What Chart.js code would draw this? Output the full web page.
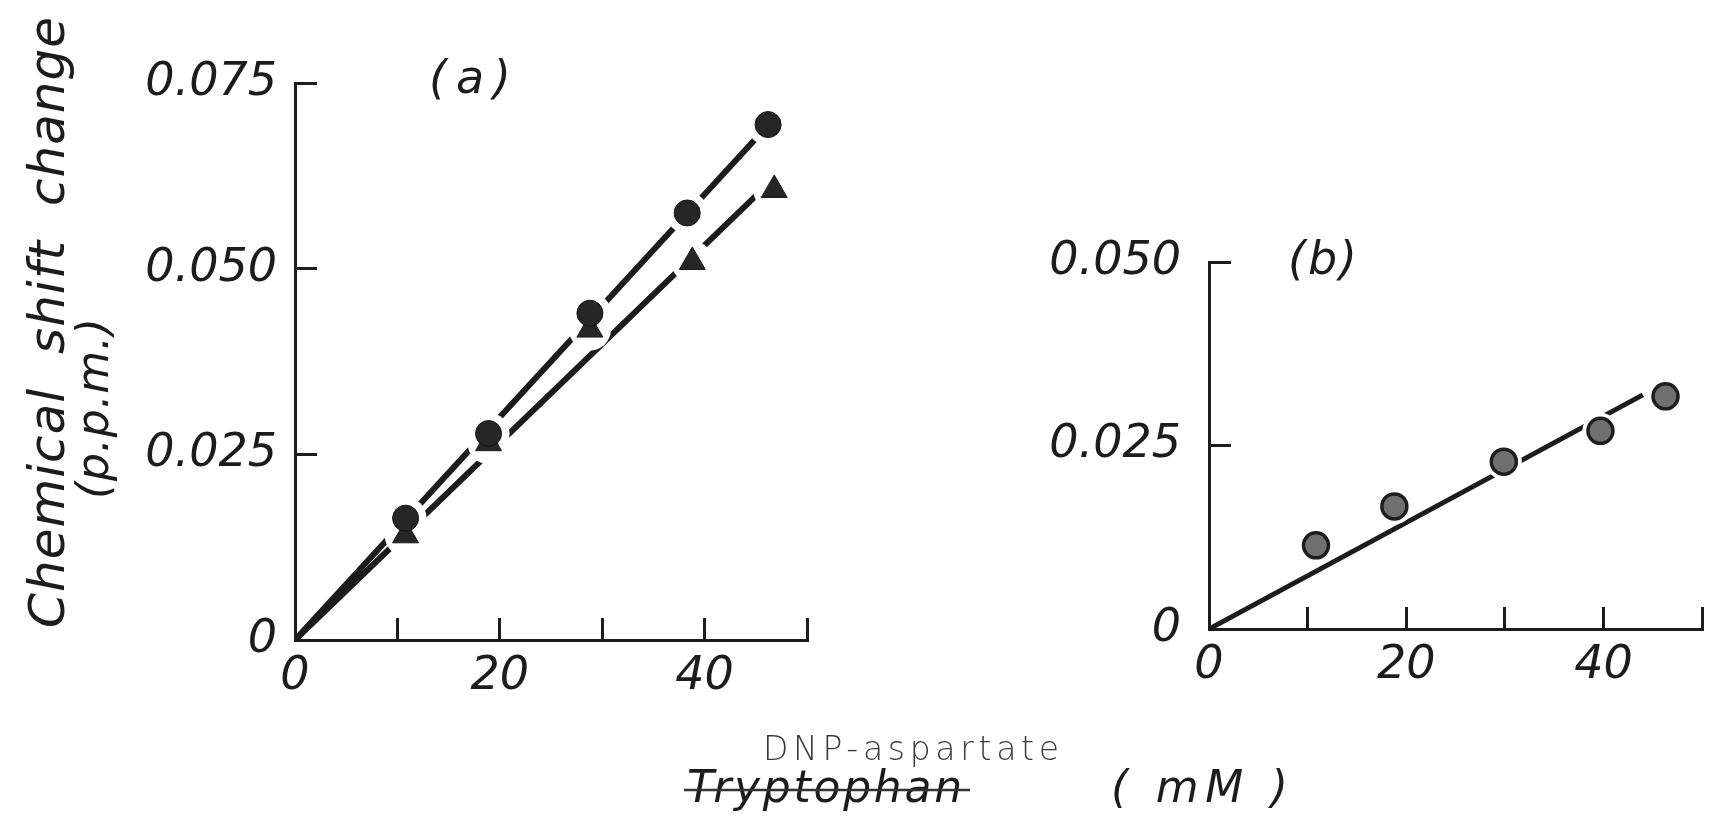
<!DOCTYPE html>
<html>
<head>
<meta charset="utf-8">
<title>Chemical shift change vs concentration</title>
<style>
  html, body { margin: 0; padding: 0; background: #ffffff; }
  #wrap { position: relative; width: 1733px; height: 819px; overflow: hidden; }
  #wrap canvas { position: absolute; left: 0; top: 0; }
</style>
<script src="https://cdn.jsdelivr.net/npm/chart.js@4.4.1/dist/chart.umd.min.js"></script>
</head>
<body>
<div id="wrap">
  <canvas id="panelA" width="1733" height="819"></canvas>
  <canvas id="panelB" width="1733" height="819"></canvas>
</div>
<script>
// ---- data -------------------------------------------------------------
// Panel (a): concentration (mM) and chemical shift change (p.p.m.)
const concCircleA  = [10.8, 18.9, 28.8, 38.3, 46.2];
const shiftCircleA = [0.0164, 0.0278, 0.0440, 0.0575, 0.0694];
const concTriA     = [10.8, 18.9, 28.8, 38.8, 46.8];
const shiftTriA    = [0.0141, 0.0265, 0.0418, 0.0509, 0.0606];
// straight lines drawn through each series in panel (a)
const fitCircleAX = [0, 46.2];
const fitCircleAY = [0, 0.0693];
const fitTriAX    = [0, 46.8];
const fitTriAY    = [0, 0.0622];

// Panel (b)
const concB  = [10.85, 18.8, 29.9, 39.7, 46.3];
const shiftB = [0.0114, 0.0167, 0.0228, 0.0270, 0.0317];
const fitBX  = [0, 44.0];
const fitBY  = [0, 0.0319];

// axes
const xTicks      = [0, 10, 20, 30, 40, 50];
const xTickLabels = ['0', '', '20', '', '40', ''];
const yTicksA      = [0, 0.025, 0.05, 0.075];
const yTickLabelsA = ['0', '0.025', '0.050', '0.075'];
const yTicksB      = [0, 0.025, 0.05];
const yTickLabelsB = ['0', '0.025', '0.050'];

// ---- styling ----------------------------------------------------------
const INK = '#1c1c1c';
const FAMILY = "'DejaVu Sans', sans-serif";
const TICK_FONT = { family: FAMILY, size: 46, style: 'italic', weight: 'normal' };
const Y_AXIS_W = 250;

const pts = (xs, ys) => xs.map((x, i) => ({ x, y: ys[i] }));

function xScale() {
  return {
    type: 'linear', min: 0, max: 50,
    afterBuildTicks: s => { s.ticks = xTicks.map(v => ({ value: v })); },
    afterFit: s => { s.height = 100; },
    ticks: {
      autoSkip: false, maxRotation: 0, minRotation: 0, padding: 31,
      color: INK, font: TICK_FONT,
      callback: (v, i) => xTickLabels[i]
    },
    grid: { drawOnChartArea: false, drawTicks: true, tickLength: -22, color: INK, lineWidth: 3 },
    border: { display: true, color: INK, width: 3 }
  };
}

function yScale(max, ticks, labels, pad) {
  return {
    type: 'linear', min: 0, max: max,
    afterBuildTicks: s => { s.ticks = ticks.map(v => ({ value: v })); },
    afterFit: s => { s.width = Y_AXIS_W; },
    ticks: {
      autoSkip: false, padding: pad, color: INK, font: TICK_FONT,
      callback: (v, i) => labels[i]
    },
    grid: { drawOnChartArea: false, drawTicks: true, tickLength: -22, color: INK, lineWidth: 3 },
    border: { display: true, color: INK, width: 3 }
  };
}

function fitLine(xs, ys, width) {
  return {
    data: pts(xs, ys), showLine: true, pointRadius: 0, borderColor: INK,
    borderWidth: width, borderCapStyle: 'butt', tension: 0, fill: false, order: 3
  };
}

// white discs under the markers leave the usual gap in the lines around them
function halo(xs, ys, r) {
  return {
    data: pts(xs, ys), showLine: false, pointRadius: r, pointHoverRadius: r,
    pointBackgroundColor: '#ffffff', pointBorderWidth: 0, pointBorderColor: '#ffffff', order: 2
  };
}

function markers(xs, ys, style, r, fillCol, borderCol, bw, order) {
  return {
    data: pts(xs, ys), showLine: false, pointStyle: style, pointRadius: r, pointHoverRadius: r,
    pointBackgroundColor: fillCol, pointBorderColor: borderCol, pointBorderWidth: bw, order: order
  };
}

// ---- free text (axis titles, panel letters) ---------------------------
function spacedText(ctx, text, start, end, base, font, vertical, color) {
  ctx.save();
  ctx.font = font;
  ctx.fillStyle = color || INK;
  ctx.textAlign = 'left';
  ctx.textBaseline = 'alphabetic';
  ctx.letterSpacing = '0px';
  const w = ctx.measureText(text).width;
  const n = [...text].length;
  const ls = n > 1 ? (Math.abs(end - start) - w) / (n - 1) : 0;
  ctx.letterSpacing = ls.toFixed(2) + 'px';
  if (vertical) {
    ctx.translate(base, start);
    ctx.rotate(-Math.PI / 2);
    ctx.fillText(text, 0, 0);
  } else {
    ctx.fillText(text, start, base);
  }
  ctx.restore();
}

const labelsPlugin = {
  id: 'figureText',
  afterDraw(chart) {
    const ctx = chart.ctx;
    spacedText(ctx, 'Chemical  shift  change', 628, 17, 64, "italic 50px " + FAMILY, true);
    spacedText(ctx, '(p.p.m.)', 499, 318, 108, "italic 44px " + FAMILY, true);
    spacedText(ctx, '(a)', 429, 511, 93, "italic 46px " + FAMILY, false);
    spacedText(ctx, '(b)', 1288, 1357, 274, "italic 46px " + FAMILY, false);
    spacedText(ctx, 'DNP-aspartate', 763, 1059, 760, "300 33px " + FAMILY, false, '#3a3a3a');
    spacedText(ctx, 'Tryptophan', 687, 962, 802, "italic 44px " + FAMILY, false);
    spacedText(ctx, '( mM )', 1111, 1288, 802, "italic 44px " + FAMILY, false);
    // correction stroke through the original label
    ctx.save();
    ctx.strokeStyle = '#333333';
    ctx.lineWidth = 2.5;
    ctx.beginPath();
    ctx.moveTo(684, 790);
    ctx.lineTo(970, 790);
    ctx.stroke();
    ctx.restore();
  }
};

const common = {
  responsive: false,
  animation: false,
  events: [],
  plugins: { legend: { display: false }, tooltip: { enabled: false } }
};

// ---- panel (a) ----------------------------------------------------------
new Chart(document.getElementById('panelA'), {
  type: 'scatter',
  data: {
    datasets: [
      fitLine(fitCircleAX, fitCircleAY, 6),
      fitLine(fitTriAX, fitTriAY, 6),
      halo(concCircleA, shiftCircleA, 21),
      halo(concTriA, shiftTriA, 21),
      markers(concTriA, shiftTriA, 'triangle', 15, '#262626', '#1a1a1a', 1, 1),
      markers(concCircleA, shiftCircleA, 'circle', 13, '#262626', '#141414', 1, 0)
    ]
  },
  options: Object.assign({}, common, {
    layout: { padding: { left: 295 - Y_AXIS_W, right: 926, top: 83, bottom: 79 } },
    scales: { x: xScale(), y: yScale(0.075, yTicksA, yTickLabelsA, 40) }
  }),
  plugins: [labelsPlugin]
});

// ---- panel (b) ----------------------------------------------------------
new Chart(document.getElementById('panelB'), {
  type: 'scatter',
  data: {
    datasets: [
      fitLine(fitBX, fitBY, 5),
      halo(concB, shiftB, 18),
      markers(concB, shiftB, 'circle', 12.5, '#707070', '#1e1e1e', 3.5, 0)
    ]
  },
  options: Object.assign({}, common, {
    layout: { padding: { left: 1209 - Y_AXIS_W, right: 15, top: 262, bottom: 90 } },
    scales: { x: xScale(), y: yScale(0.05, yTicksB, yTickLabelsB, 50) }
  })
});
</script>
</body>
</html>
